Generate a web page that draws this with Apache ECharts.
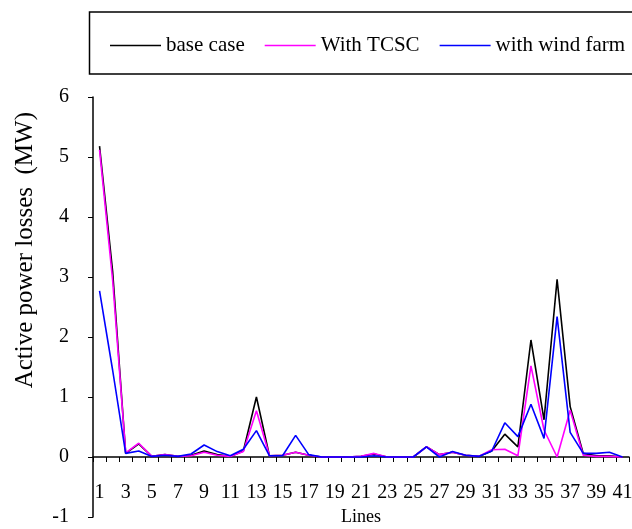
<!DOCTYPE html>
<html>
<head>
<meta charset="utf-8">
<script src="https://cdn.jsdelivr.net/npm/echarts@6/dist/echarts.min.js"></script>
<style>
html,body{margin:0;padding:0;background:#fff;}
#chart{width:632px;height:529px;}
</style>
</head>
<body>
<div id="chart"></div>
<script>
var categories = [];
for (var k = 1; k <= 41; k++) categories.push(String(k));

var baseCase = [5.18, 3.10, 0.06, 0.22, 0.01, 0.04, 0.01, 0.03, 0.10, 0.04,
                0.01, 0.10, 1.00, 0.02, 0.03, 0.08, 0.03, 0.00, 0.00, 0.00,
                0.01, 0.05, 0.00, 0.00, 0.00, 0.17, 0.04, 0.08, 0.03, 0.01,
                0.10, 0.38, 0.17, 1.95, 0.62, 2.96, 0.84, 0.06, 0.02, 0.02, 0.00];
var withTCSC = [5.12, 2.95, 0.07, 0.23, 0.01, 0.04, 0.01, 0.02, 0.08, 0.03,
                0.01, 0.09, 0.77, 0.02, 0.03, 0.08, 0.03, 0.00, 0.00, 0.00,
                0.01, 0.06, 0.00, 0.00, 0.00, 0.17, 0.04, 0.08, 0.03, 0.01,
                0.12, 0.13, 0.02, 1.52, 0.45, 0.00, 0.78, 0.03, 0.01, 0.01, 0.00];
var withWind = [2.77, 1.45, 0.06, 0.10, 0.01, 0.03, 0.01, 0.05, 0.20, 0.09,
                0.02, 0.13, 0.44, 0.02, 0.02, 0.36, 0.04, 0.00, 0.00, 0.00,
                0.00, 0.02, 0.00, 0.00, 0.00, 0.17, 0.00, 0.09, 0.03, 0.01,
                0.10, 0.57, 0.34, 0.88, 0.31, 2.34, 0.41, 0.06, 0.06, 0.08, 0.00];
var seriesNames = ['base case', 'With TCSC', 'with wind farm'];
var yTitle = 'Active power losses  (MW)';
var xTitle = 'Lines';

var FONT = '"Liberation Serif", "Times New Roman", serif';
var chart = echarts.init(document.getElementById('chart'), null, {renderer: 'canvas'});
chart.setOption({
  backgroundColor: '#ffffff',
  animation: false,
  grid: {left: 93, right: 3, top: 97, bottom: 12, containLabel: false, outerBoundsMode: 'none'},
  legend: {
    left: 110, top: 35, width: 600, orient: 'horizontal', padding: 0,
    icon: 'rect', itemWidth: 51, itemHeight: 1.6, itemGap: 20,
    textStyle: {fontFamily: FONT, fontSize: 21, color: '#000'},
    data: seriesNames
  },
  graphic: [
    {type: 'rect', shape: {x: 89.5, y: 12, width: 560, height: 62},
     style: {fill: 'none', stroke: '#000', lineWidth: 1.5}, z: 0},
    {type: 'text', x: 25, y: 112, rotation: Math.PI / 2,
     style: {text: yTitle, font: '25px ' + FONT, fill: '#000', align: 'right', verticalAlign: 'middle'}}
  ],
  xAxis: {
    type: 'category', data: categories, boundaryGap: true,
    name: xTitle, nameLocation: 'middle', nameGap: -10,
    nameTextStyle: {fontFamily: FONT, fontSize: 18, color: '#000', verticalAlign: 'top'},
    axisLine: {onZero: true, lineStyle: {color: '#000', width: 1.5}},
    axisTick: {show: true, interval: 0, length: 5, lineStyle: {color: '#000'}},
    axisLabel: {interval: 1, margin: -34, fontFamily: FONT, fontSize: 20, color: '#000'},
    splitLine: {show: false}
  },
  yAxis: {
    type: 'value', min: -1, max: 6, interval: 1,
    axisLine: {show: true, lineStyle: {color: '#000', width: 1.5}},
    axisTick: {show: true, length: 5, lineStyle: {color: '#000'}},
    axisLabel: {margin: 24, fontFamily: FONT, fontSize: 20, color: '#000'},
    splitLine: {show: false}
  },
  series: [
    {name: seriesNames[0], type: 'line', data: baseCase, symbol: 'none',
     lineStyle: {color: '#000000', width: 1.6}, itemStyle: {color: '#000000'}},
    {name: seriesNames[1], type: 'line', data: withTCSC, symbol: 'none',
     lineStyle: {color: '#ff00ff', width: 1.6}, itemStyle: {color: '#ff00ff'}},
    {name: seriesNames[2], type: 'line', data: withWind, symbol: 'none',
     lineStyle: {color: '#0000ff', width: 1.6}, itemStyle: {color: '#0000ff'}}
  ]
});
</script>
</body>
</html>
